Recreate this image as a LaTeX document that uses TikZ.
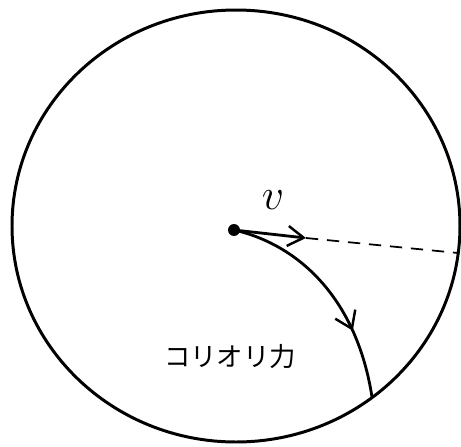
\documentclass[tikz,border=0pt]{standalone}
\usepackage{fontspec}
\newfontfamily\jpfont{Noto Sans CJK JP}
\usetikzlibrary{arrows.meta,decorations.markings}

\begin{document}
\begin{tikzpicture}[
  x=0.02cm, y=-0.02cm,
  rim/.style={line width=1.7pt},
  path/.style={line width=1.6pt, line cap=round},
  arr/.style={path, -{Straight Barb[length=3.2mm, width=4mm, line width=1.4pt]}},
  midarr/.style={path, postaction={decorate},
    decoration={markings, mark=at position 0.7 with
      {\arrow{Straight Barb[length=3.2mm, width=4.4mm, line width=1.4pt]}}}},
  dashline/.style={line width=1pt, dash pattern=on 7pt off 5pt}
]
\useasboundingbox (0,0) rectangle (461,447);
% the disc
\draw[rim] (236,226) ellipse [x radius=224, y radius=216];
% points
\coordinate (o)    at (234,230);
\coordinate (tip)  at (306,238);
\coordinate (edge) at (458,253);
\coordinate (hit)  at (372,397);
\fill (o) circle (3.4pt);
\draw[arr] (o) -- (tip);
\draw[dashline] (tip) -- (edge);
\draw[midarr] (o) .. controls (300,245) and (357,300) .. (hit);
% labels
\node (vlab) at (273,200) {\fontsize{24}{24}\selectfont$v$};
\node (force) at (230,357) {\jpfont\fontsize{15}{15}\selectfont コリオリ力};
\end{tikzpicture}
\end{document}
